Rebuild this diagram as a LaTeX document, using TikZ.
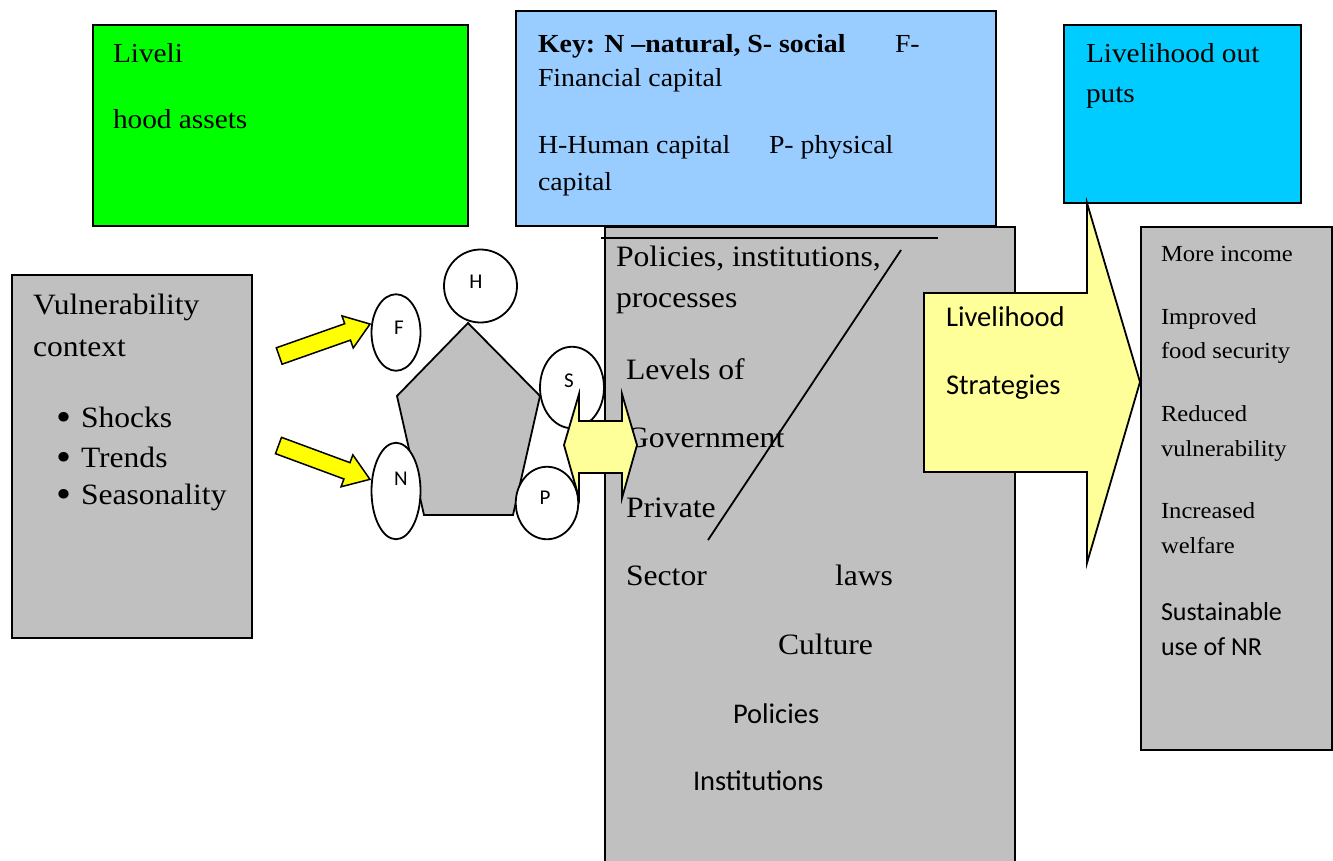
\documentclass[tikz,border=0pt]{standalone}
\usepackage{fontspec}
\setmainfont[FakeStretch=1.07]{Liberation Serif}
\newfontfamily\calibri{Carlito}
\usetikzlibrary{shapes.geometric}
\definecolor{boxgray}{HTML}{C0C0C0}
\definecolor{assetgreen}{HTML}{00FF00}
\definecolor{keyblue}{HTML}{99CCFF}
\definecolor{outcyan}{HTML}{00CCFF}
\definecolor{paleyellow}{HTML}{FFFF99}
\definecolor{brightyellow}{HTML}{FFFF00}
\begin{document}
\begin{tikzpicture}[x=1pt,y=-1pt,
  box/.style={draw=black, line width=2pt, anchor=north west, inner sep=0pt, outer sep=0pt},
  txt/.style={anchor=base west, inner sep=0pt, outer sep=0pt},
  fassets/.style={txt, font=\fontsize{27.4}{32}\selectfont},
  fkey/.style={txt, font=\fontsize{26}{31}\selectfont},
  fvul/.style={txt, font=\fontsize{29.5}{35}\selectfont},
  fbullet/.style={txt, font=\fontsize{40}{44}\selectfont},
  fpol/.style={txt, font=\fontsize{29.6}{35}\selectfont},
  fpolsans/.style={txt, font=\calibri\fontsize{28.5}{34}\selectfont},
  fstrat/.style={txt, font=\calibri\fontsize{28.6}{34}\selectfont},
  fout/.style={txt, font=\fontsize{23}{28}\selectfont},
  foutsans/.style={txt, font=\calibri\fontsize{26}{31}\selectfont},
  caplabel/.style={inner sep=0pt, font=\calibri\fontsize{21}{24}\selectfont},
  capital/.style={ellipse, draw=black, fill=white, line width=1.8pt, inner sep=0pt},
  yarrow/.style={draw=black, fill=brightyellow, line width=1.5pt, line join=miter},
  parrow/.style={draw=black, fill=paleyellow, line width=1.8pt, line join=miter},
  thinline/.style={draw=black, line width=1.8pt}
]
\clip (0,0) rectangle (1333,860);
\fill[white] (0,0) rectangle (1333,860);

% boxes
\node[box, fill=assetgreen, minimum width=375, minimum height=201] (assets) at (93,25) {};
\node[box, fill=keyblue, minimum width=480, minimum height=215] (key) at (516,11) {};
\node[box, fill=outcyan, minimum width=237, minimum height=178] (outputs) at (1064,25) {};
\node[box, fill=boxgray, minimum width=240, minimum height=363] (vul) at (12,275) {};
\node[box, fill=boxgray, minimum width=410, minimum height=660] (pol) at (605,227) {};
\node[box, fill=boxgray, minimum width=191, minimum height=523] (outcomes) at (1141,227) {};

% livelihood assets text
\node[fassets] (t1) at (113,62) {Liveli};
\node[fassets] (t2) at (113,128) {hood assets};

% key text
\node[fkey] (k1) at (538,52) {\textbf{Key: N –natural, S- social}};
\node[fkey] (k2) at (895,52) {F-};
\node[fkey] (k3) at (538,86) {Financial capital};
\node[fkey] (k4) at (538,153) {H-Human capital};
\node[fkey] (k5) at (769,153) {P- physical};
\node[fkey] (k6) at (538,190) {capital};

% outputs text
\node[fassets] (o1) at (1086,62) {Livelihood out};
\node[fassets] (o2) at (1086,102) {puts};

% vulnerability text
\node[fvul] (v1) at (33,314) {Vulnerability};
\node[fvul] (v2) at (33,356) {context};
\node[fbullet] (b1) at (56,430) {•};
\node[fvul] (v3) at (81,427) {Shocks};
\node[fbullet] (b2) at (56,470) {•};
\node[fvul] (v4) at (81,467) {Trends};
\node[fbullet] (b3) at (56,507) {•};
\node[fvul] (v5) at (81,504) {Seasonality};

% policies text
\coordinate (topl) at (601,238);
\coordinate (topr) at (938,238);
\draw[thinline] (topl) -- (topr);
\node[fpol] (p1) at (616,266) {Policies, institutions,};
\node[fpol] (p2) at (616,307) {processes};
\node[fpol] (p3) at (626,379) {Levels of};
\node[fpol] (p4) at (626,447) {Government};
\node[fpol] (p5) at (626,517) {Private};
\node[fpol] (p6) at (626,585) {Sector};
\node[fpol] (p7) at (835,585) {laws};
\node[fpol] (p8) at (778,654) {Culture};
\node[fpolsans] (p9) at (733,723) {Policies};
\node[fpolsans] (p10) at (693,790) {Institutions};
\coordinate (dlo) at (708,540);
\coordinate (dhi) at (901,250);
\draw[thinline] (dlo) -- (dhi);

% outcomes text
\node[fout] (r1) at (1161,261) {More income};
\node[fout] (r2) at (1161,324) {Improved};
\node[fout] (r3) at (1161,358) {food security};
\node[fout] (r4) at (1161,421) {Reduced};
\node[fout] (r5) at (1161,456) {vulnerability};
\node[fout] (r6) at (1161,518) {Increased};
\node[fout] (r7) at (1161,553) {welfare};
\node[foutsans] (r8) at (1161,620) {Sustainable};
\node[foutsans] (r9) at (1161,655) {use of NR};

% livelihood strategies arrow
\draw[parrow] (924,293) -- (1087,293) -- (1087,203) -- (1140,382) -- (1087,563) -- (1087,472) -- (924,472) -- cycle;
\node[fstrat] (s1) at (946,326) {Livelihood};
\node[fstrat] (s2) at (946,394) {Strategies};

% pentagon of assets
\draw[draw=black, fill=boxgray, line width=1.8pt, line join=miter] (468,323) -- (540,396) -- (513,515) -- (424,515) -- (397,396) -- cycle;
\node[capital, minimum width=73, minimum height=73] (H) at (480.5,286) {};
\node[capital, minimum width=49, minimum height=76.5] (F) at (396,332.5) {};
\node[capital, minimum width=64, minimum height=81.5] (S) at (572,387.5) {};
\node[capital, minimum width=49, minimum height=96.5] (N) at (396,491) {};
\node[capital, minimum width=62.5, minimum height=72.5] (P) at (547,503) {};
\node[caplabel] (Hl) at (476,282) {H};
\node[caplabel] (Fl) at (399,328) {F};
\node[caplabel] (Sl) at (569,381) {S};
\node[caplabel] (Nl) at (401,479) {N};
\node[caplabel] (Pl) at (545,498) {P};

% double arrow between assets and policies
\draw[parrow] (564,445) -- (579,394) -- (579,421) -- (622,421) -- (622,394) -- (637,445) -- (622,498) -- (622,473) -- (579,473) -- (579,498) -- cycle;

% yellow arrows to F and N
\coordinate (ftail) at (279.2,356);
\coordinate (ntail) at (278.5,445.5);
\draw[yarrow, shift={(ftail)}, rotate=19.4] (0,-8.7) -- (72.5,-8.7) -- (72.5,-17) -- (96.3,0) -- (72.5,17) -- (72.5,8.7) -- (0,8.7) -- cycle;
\draw[yarrow, shift={(ntail)}, rotate=-20.3] (0,-8.7) -- (73,-8.7) -- (73,-17) -- (97.5,0) -- (73,17) -- (73,8.7) -- (0,8.7) -- cycle;
\end{tikzpicture}
\end{document}
